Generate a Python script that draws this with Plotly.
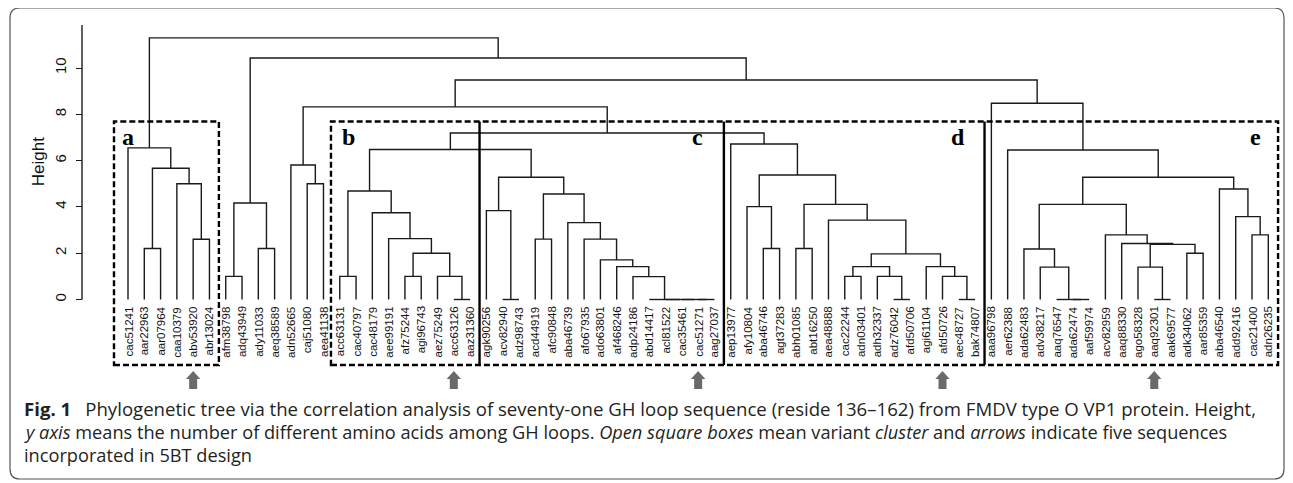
import plotly.graph_objects as go

SCREEN_W, SCREEN_H = 1293, 483
OFF = 8                      # default page margin of the html body
W, H = SCREEN_W - OFF, SCREEN_H - OFF

# ---------------- data ----------------
leaf_order = [
    "cac51241", "aar22963", "aar07964", "caa10379", "abv53920", "abr13024",
    "afm38798", "adq43949", "ady11033", "aeq38589", "adn52665", "caj51080", "aea41138",
    "acc63131", "cac40797", "cac48179", "aee99191", "afz75244", "agi96743", "aez75249",
    "acc63126", "aaz31360",
    "agk90256", "acv82940", "adz98743", "acd44919", "afc90848", "aba46739", "afo67935",
    "ado63801", "af468246", "adp24186", "abd14417", "acl81522", "cac35461", "cac51271",
    "aag27037",
    "aep13977", "afy10804", "aba46746", "agt37283", "abh01085", "abt16250", "aea48888",
    "cac22244", "adn03401", "adh32337", "adz76042", "afd50706", "agi61104", "afd50726",
    "aec48727", "bak74807",
    "aaa96798", "aer62388", "ada62483", "adv38217", "aaq76547", "ada62474", "aaf59974",
    "acv82959", "aaq88330", "ago58328", "aaq92301", "aak69577", "adk34062", "aar85359",
    "aba46540", "add92416", "cac21400", "adn26235",
]

# merge name, left child, right child, height
merges_a = [
    ("a1", "aar22963", "aar07964", 2.2),
    ("a2", "abv53920", "abr13024", 2.6),
    ("a3", "caa10379", "a2", 5.0),
    ("a4", "a1", "a3", 5.67),
    ("a5", "cac51241", "a4", 6.55),
]
merges_g = [
    ("g1", "afm38798", "adq43949", 1.0),
    ("g2", "ady11033", "aeq38589", 2.2),
    ("g3", "g1", "g2", 4.17),
    ("g4", "caj51080", "aea41138", 5.0),
    ("g5", "adn52665", "g4", 5.81),
]
merges_b = [
    ("b1", "acc63131", "cac40797", 1.0),
    ("b2", "afz75244", "agi96743", 1.0),
    ("b3", "acc63126", "aaz31360", 0.0),
    ("b4", "aez75249", "b3", 1.0),
    ("b5", "b2", "b4", 2.0),
    ("b6", "aee99191", "b5", 2.63),
    ("b7", "cac48179", "b6", 3.75),
    ("b8", "b1", "b7", 4.69),
]
merges_c = [
    ("c1", "acv82940", "adz98743", 0.0),
    ("c2", "agk90256", "c1", 3.84),
    ("c3", "acd44919", "afc90848", 2.61),
    ("c4", "cac51271", "aag27037", 0.0),
    ("c5", "cac35461", "c4", 0.0),
    ("c6", "acl81522", "c5", 0.0),
    ("c7", "abd14417", "c6", 0.0),
    ("c8", "adp24186", "c7", 0.99),
    ("c9", "af468246", "c8", 1.42),
    ("c10", "ado63801", "c9", 1.71),
    ("c11", "afo67935", "c10", 2.61),
    ("c12", "aba46739", "c11", 3.32),
    ("c13", "c3", "c12", 4.56),
    ("c14", "c2", "c13", 5.28),
]
merges_d = [
    ("d1", "aba46746", "agt37283", 2.2),
    ("d2", "afy10804", "d1", 4.01),
    ("d3", "abh01085", "abt16250", 2.2),
    ("d4", "cac22244", "adn03401", 1.0),
    ("d5", "adz76042", "afd50706", 0.0),
    ("d6", "adh32337", "d5", 1.0),
    ("d7", "d4", "d6", 1.42),
    ("d8", "aec48727", "bak74807", 0.0),
    ("d9", "afd50726", "d8", 1.0),
    ("d10", "agi61104", "d9", 1.42),
    ("d11", "d7", "d10", 1.97),
    ("d12", "aea48888", "d11", 3.43),
    ("d13", "d3", "d12", 4.11),
    ("d14", "d2", "d13", 5.38),
    ("d15", "aep13977", "d14", 6.72),
]
merges_e = [
    ("e1", "ada62474", "aaf59974", 0.0),
    ("e2", "aaq76547", "e1", 0.0),
    ("e3", "adv38217", "e2", 1.4),
    ("e4", "ada62483", "e3", 2.18),
    ("e5", "aaq92301", "aak69577", 0.0),
    ("e6", "ago58328", "e5", 1.4),
    ("e7", "adk34062", "aar85359", 2.0),
    ("e8", "e6", "e7", 2.38),
    ("e9", "aaq88330", "e8", 2.42),
    ("e10", "acv82959", "e9", 2.79),
    ("e11", "e4", "e10", 4.11),
    ("e12", "cac21400", "adn26235", 2.79),
    ("e13", "add92416", "e12", 3.58),
    ("e14", "aba46540", "e13", 4.77),
    ("e15", "e11", "e14", 5.28),
    ("e16", "aer62388", "e15", 6.46),
    ("e17", "aaa96798", "e16", 8.48),
]
merges_top = [
    ("bc", "b8", "c14", 6.48),
    ("bcd", "bc", "d15", 7.19),
    ("g6", "g5", "bcd", 8.32),
    ("top2", "g6", "e17", 9.48),
    ("top3", "g3", "top2", 10.43),
    ("root", "a5", "top3", 11.3),
]

cluster_letters = ["a", "b", "c", "d", "e"]
cluster_first = ["cac51241", "acc63131", "agk90256", "aep13977", "aaa96798"]
cluster_last = ["abr13024", "aaz31360", "aag27037", "bak74807", "adn26235"]
arrow_leaves = ["abv53920", "acc63126", "cac51271", "afd50726", "aaq92301"]
y_ticks = [0, 2, 4, 6, 8, 10]
y_axis_top = 11.86

caption_lines = [
    "<b>Fig. 1</b>\u2002 Phylogenetic tree via the correlation analysis of seventy-one GH loop sequence "
    "(reside 136\u2013162) from FMDV type O VP1 protein. Height,",
    "<i>y axis</i> means the number of different amino acids among GH loops. <i>Open square boxes</i> "
    "mean variant <i>cluster</i> and <i>arrows</i> indicate five sequences",
    "incorporated in 5BT design",
]

# ---------------- geometry helpers (screen pixel layout) ----------------
X0, DX = 128.0, 16.29      # screen pixel of leaf 0, pixels per leaf
Y0, DY = 299.5, 23.15      # screen pixel of height 0, pixels per height unit


def xd(px):
    return (px - X0) / DX


def yd(py):
    return (Y0 - py) / DY


def paper(px, py):
    return (px - OFF) / W, 1 - (py - OFF) / H


# ---------------- build dendrogram segments ----------------
pos = {n: i for i, n in enumerate(leaf_order)}
hgt = {n: 0.0 for n in leaf_order}
lx, ly = [], []
for name, l, r, h in merges_a + merges_g + merges_b + merges_c + merges_d + merges_e + merges_top:
    xl, xr = pos[l], pos[r]
    lx += [xl, xl, xr, xr, None]
    ly += [hgt[l], h, h, hgt[r], None]
    pos[name] = (xl + xr) / 2
    hgt[name] = h

fig = go.Figure()
fig.add_trace(go.Scatter(x=lx, y=ly, mode="lines",
                         line=dict(color="#1a1a1a", width=1.4),
                         hoverinfo="skip", showlegend=False))

# y axis line
ax_x = xd(82)
fig.add_trace(go.Scatter(x=[ax_x, ax_x], y=[0, y_axis_top], mode="lines",
                         line=dict(color="#1a1a1a", width=1.4),
                         hoverinfo="skip", showlegend=False))

annotations = []
shapes = []

# leaf labels
for n in leaf_order:
    annotations.append(dict(x=pos[n], y=0, xref="x", yref="y", text=n, showarrow=False,
                            textangle=-90, xanchor="center", yanchor="top", yshift=-5,
                            font=dict(family="Liberation Sans, Arial", size=11.5, color="#111")))

# "Height" title
annotations.append(dict(x=xd(38), y=y_axis_top / 2, xref="x", yref="y", text="Height",
                        showarrow=False, textangle=-90,
                        font=dict(family="Liberation Sans, Arial", size=17, color="#111")))

# cluster boxes
box_top, box_bot = yd(121.5), yd(365)
dash = dict(color="black", width=2.4, dash="6px,3px")
fa, la = pos[cluster_first[0]], pos[cluster_last[0]]
shapes.append(dict(type="rect", xref="x", yref="y", x0=fa - 0.86, x1=la + 0.58,
                   y0=box_bot, y1=box_top, line=dash))
big_left = pos[cluster_first[1]] - 0.54
big_right = pos[cluster_last[4]] + 0.6
shapes.append(dict(type="rect", xref="x", yref="y", x0=big_left, x1=big_right,
                   y0=box_bot, y1=box_top, line=dash))
for k in range(1, 4):
    xs = (pos[cluster_last[k]] + pos[cluster_first[k + 1]]) / 2 + 0.08
    shapes.append(dict(type="line", xref="x", yref="y", x0=xs, x1=xs, y0=box_bot, y1=box_top,
                       line=dict(color="black", width=2.4)))

# letters
letter_y = yd(137)
letter_x = [fa - 0.86 + 14 / DX, big_left + 18 / DX]
for k in (2, 3):
    xs = (pos[cluster_last[k]] + pos[cluster_first[k + 1]]) / 2
    letter_x.append(xs - 25 / DX)
letter_x.append(big_right - 23 / DX)
for L, xx in zip(cluster_letters, letter_x):
    annotations.append(dict(x=xx, y=letter_y, xref="x", yref="y", text="<b>%s</b>" % L,
                            showarrow=False, xanchor="center", yanchor="middle",
                            font=dict(family="Liberation Serif, Times New Roman", size=24,
                                      color="black")))

# arrows
tip, base, bottom = yd(371), yd(379), yd(389)
hw, sw = 7.2 / DX, 4.0 / DX
for n in arrow_leaves:
    c = pos[n]
    path = ("M {:.4f},{:.4f} L {:.4f},{:.4f} L {:.4f},{:.4f} L {:.4f},{:.4f} L {:.4f},{:.4f} "
            "L {:.4f},{:.4f} L {:.4f},{:.4f} Z").format(
        c, tip, c + hw, base, c + sw, base, c + sw, bottom, c - sw, bottom, c - sw, base,
        c - hw, base)
    shapes.append(dict(type="path", xref="x", yref="y", path=path,
                       fillcolor="#6a6a6a", line=dict(width=0)))

# caption
cap_y = [408, 432, 455]
cap_size = [18.6, 18.2, 18.2]
for t, py, fs in zip(caption_lines, cap_y, cap_size):
    px_, pp = paper(22, py)
    annotations.append(dict(x=px_, y=pp, xref="paper", yref="paper", text=t, showarrow=False,
                            xanchor="left", yanchor="middle",
                            font=dict(family="Open Sans", size=fs, color="#231f20")))

# rounded border
r = 10
x0p, y0p, x1p, y1p = 10, 8, 1284, 479


def P(px, py):
    a, b = paper(px, py)
    return "{:.5f},{:.5f}".format(a, b)


border = ("M " + P(x0p + r, y0p) + " L " + P(x1p - r, y0p) + " Q " + P(x1p, y0p) + " " + P(x1p, y0p + r) +
          " L " + P(x1p, y1p - r) + " Q " + P(x1p, y1p) + " " + P(x1p - r, y1p) +
          " L " + P(x0p + r, y1p) + " Q " + P(x0p, y1p) + " " + P(x0p, y1p - r) +
          " L " + P(x0p, y0p + r) + " Q " + P(x0p, y0p) + " " + P(x0p + r, y0p) + " Z")
shapes.append(dict(type="path", xref="paper", yref="paper", path=border,
                   line=dict(color="#555555", width=1.2), fillcolor="rgba(0,0,0,0)"))

fig.update_layout(
    width=W, height=H, autosize=False,
    margin=dict(l=0, r=0, t=0, b=0),
    paper_bgcolor="white", plot_bgcolor="white",
    xaxis=dict(range=[xd(OFF), xd(SCREEN_W)], domain=[0, 1], visible=False, fixedrange=True),
    yaxis=dict(range=[yd(SCREEN_H), yd(OFF)], domain=[0, 1], anchor="free",
               position=(82 - OFF) / W,
               side="left", showgrid=False, zeroline=False, showline=False,
               ticks="outside", ticklen=6, tickwidth=1.4, tickcolor="#1a1a1a",
               tickvals=y_ticks, ticktext=[str(v) for v in y_ticks], tickangle=-90,
               ticklabelstandoff=4,
               tickfont=dict(family="Liberation Sans, Arial", size=15, color="#111"),
               fixedrange=True),
    annotations=annotations,
    shapes=shapes,
    showlegend=False,
)

fig.write_html("out.html")
